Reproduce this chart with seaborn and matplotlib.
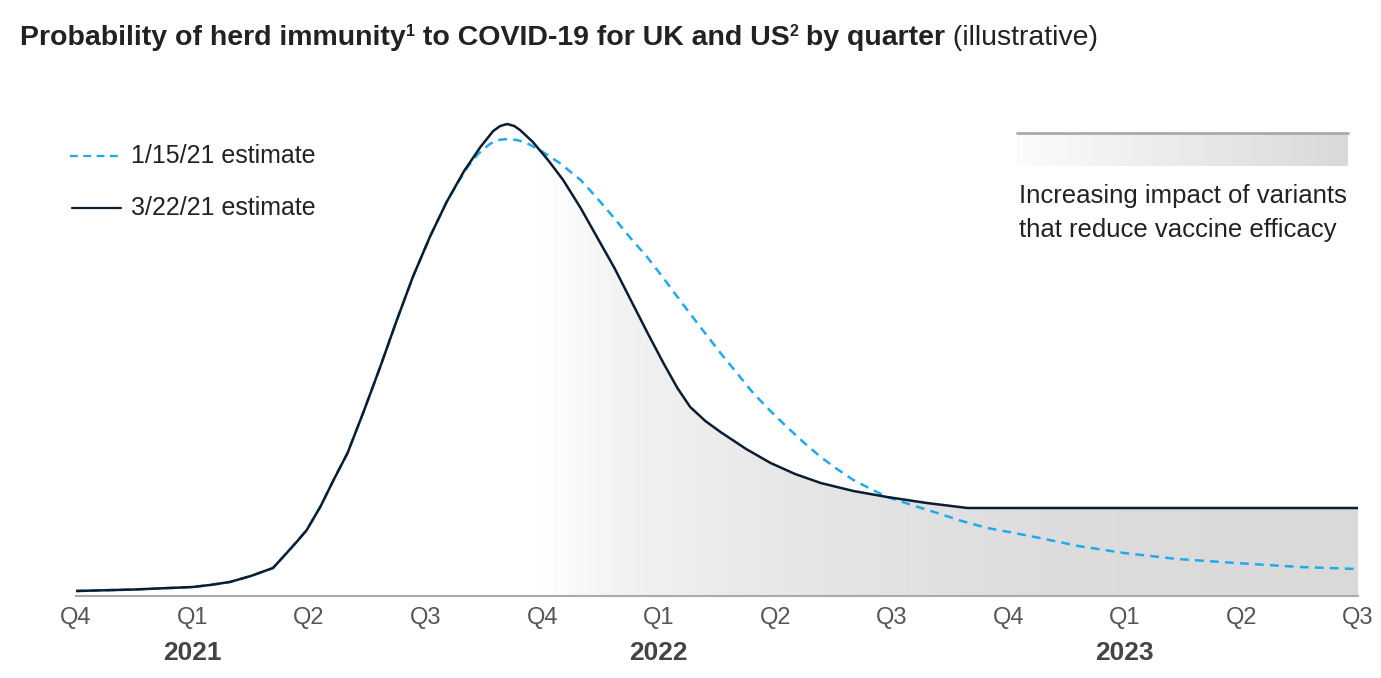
import numpy as np
import pandas as pd
import matplotlib.pyplot as plt
import seaborn as sns
from matplotlib.colors import LinearSegmentedColormap
from matplotlib.patches import PathPatch
from matplotlib.lines import Line2D

sns.set_style("white")
plt.rcParams['font.family'] = ['Liberation Sans', 'DejaVu Sans']

# quarter ticks (position 0 = Q4 2020)
quarters = ["Q4", "Q1", "Q2", "Q3", "Q4", "Q1", "Q2", "Q3", "Q4", "Q1", "Q2", "Q3"]
years = ["2021", "2022", "2023"]
year_pos = [1, 5, 9]

# 3/22/21 estimate (illustrative index)
est_mar_q = [0.0, 0.5, 1.0, 1.15, 1.32, 1.5, 1.69, 1.8, 1.9, 1.98, 2.1, 2.21, 2.33,
             2.47, 2.61, 2.75, 2.89, 3.04, 3.18, 3.33, 3.47, 3.58, 3.64, 3.70, 3.76,
             3.81, 3.92, 4.05, 4.18, 4.33, 4.47, 4.62, 4.76, 4.90, 5.04, 5.16, 5.27,
             5.40, 5.53, 5.75, 5.96, 6.17, 6.39, 6.67, 6.96, 7.30, 7.65, 11.0]
est_mar_v = [5, 6.5, 9, 11, 14, 20, 28, 42, 55, 66, 90, 116, 143,
             185, 229, 275, 319, 360, 394, 425, 449, 465, 470, 472, 470,
             466, 454, 436, 416, 388, 359, 328, 296, 264, 233, 208, 189,
             175, 164, 147, 133, 122, 113, 105, 99, 93, 88, 88]

# 1/15/21 estimate
est_jan_q = [0.0, 0.5, 1.0, 1.15, 1.32, 1.5, 1.69, 1.8, 1.9, 1.98, 2.1, 2.21, 2.33,
             2.47, 2.61, 2.75, 2.89, 3.04, 3.18, 3.27, 3.36, 3.45, 3.55, 3.62, 3.70,
             3.78, 3.85, 3.98, 4.15, 4.33, 4.47, 4.61, 4.75, 4.90, 5.04, 5.18, 5.35,
             5.53, 5.67, 5.81, 5.95, 6.10, 6.25, 6.39, 6.53, 6.67, 6.82, 6.96, 7.17,
             7.39, 7.60, 7.82, 8.05, 8.27, 8.60, 8.99, 9.45, 9.95, 10.5, 11.0]
est_jan_v = [5, 6.5, 9, 11, 14, 20, 28, 42, 55, 66, 90, 116, 143,
             185, 229, 275, 319, 360, 394, 412, 429, 442, 452, 456, 457,
             456, 454, 446, 433, 416, 398, 379, 359, 339, 318, 296, 270,
             243, 223, 203, 186, 169, 153, 139, 127, 116, 107, 99, 91,
             83, 75, 68, 63, 58, 50, 43, 37, 33, 29, 27]

df_mar = pd.DataFrame({"q": est_mar_q, "v": est_mar_v})
df_jan = pd.DataFrame({"q": est_jan_q, "v": est_jan_v})

W, H = 1381, 678
fig = plt.figure(figsize=(W / 100, H / 100), dpi=100)
ax = fig.add_axes([76 / W, 82 / H, 1282 / W, 520 / H])

# gradient fill under the March curve
fill_start = 3.98
grad_cmap = LinearSegmentedColormap.from_list(
    "grad", [(0, "#ffffff"), (0.095, "#f3f3f3"), (0.317, "#e6e6e6"),
             (0.61, "#dddddd"), (1, "#d9d9d9")])
im = ax.imshow(np.linspace(0, 1, 512).reshape(1, -1), extent=[fill_start, 11, 0, 520],
               aspect="auto", cmap=grad_cmap, origin="lower", zorder=0)
poly = ax.fill_between(df_mar["q"], df_mar["v"], 0, color="none", lw=0)
clip = PathPatch(poly.get_paths()[0], transform=ax.transData, facecolor="none", edgecolor="none")
ax.add_patch(clip)
im.set_clip_path(clip)

sns.lineplot(data=df_jan, x="q", y="v", ax=ax, color="#1eaaf0", lw=1.8,
             linestyle=(0, (3.5, 2.5)), zorder=3)
sns.lineplot(data=df_mar, x="q", y="v", ax=ax, color="#0b1d30", lw=1.8, zorder=4)

ax.set_xlim(0, 11)
ax.set_ylim(0, 520)
ax.set_xlabel("")
ax.set_ylabel("")
ax.set_yticks([])
ax.set_xticks(range(len(quarters)))
ax.set_xticklabels(quarters, fontsize=17, color="#555555")
ax.tick_params(axis="x", direction="in", length=6, width=1, color="#aaaaaa", pad=8)
for s in ["top", "right", "left"]:
    ax.spines[s].set_visible(False)
ax.spines["bottom"].set_color("#aaaaaa")
ax.spines["bottom"].set_linewidth(1.5)

for yr, p in zip(years, year_pos):
    ax.text(p, -57, yr, ha="center", va="center", fontsize=19, fontweight="bold",
            color="#444444", clip_on=False)

# legend
fig.add_artist(Line2D([70 / W, 121 / W], [1 - 156 / H] * 2, color="#1eaaf0", lw=1.6,
                      linestyle=(0, (3.5, 2.5))))
fig.add_artist(Line2D([72 / W, 121 / W], [1 - 208 / H] * 2, color="#0b1d30", lw=1.6))
fig.text(131 / W, 1 - 156 / H, "1/15/21 estimate", fontsize=18, color="#222222", va="center")
fig.text(131 / W, 1 - 208 / H, "3/22/21 estimate", fontsize=18, color="#222222", va="center")

# variants box
bax = fig.add_axes([1017 / W, 1 - 166 / H, 331 / W, 33 / H])
bax.imshow(np.linspace(0, 1, 512).reshape(1, -1), aspect="auto",
           cmap=LinearSegmentedColormap.from_list("b", ["#fcfcfc", "#d9d9d9"]))
bax.axis("off")
fig.add_artist(Line2D([1017 / W, 1348 / W], [1 - 133 / H] * 2, color="#aaaaaa", lw=2))
fig.text(1019 / W, 1 - 196 / H, "Increasing impact of variants", fontsize=18.5,
         color="#222222", va="center")
fig.text(1019 / W, 1 - 230 / H, "that reduce vaccine efficacy", fontsize=18.5,
         color="#222222", va="center")

# title built from pieces (superscripts)
renderer = fig.canvas.get_renderer()
pieces = [("Probability of herd immunity", 20.5, "bold", 0),
          ("1", 11.5, "bold", 9),
          (" to COVID-19 for UK and US", 20.5, "bold", 0),
          ("2", 11.5, "bold", 9),
          (" by quarter", 20.5, "bold", 0),
          (" (illustrative)", 20.5, "normal", 0)]
x = 20
for txt, fs, fw, dy in pieces:
    t = fig.text(x / W, 1 - (45 - dy) / H, txt, fontsize=fs, fontweight=fw,
                 color="#222222", va="baseline")
    bb = t.get_window_extent(renderer)
    x += bb.width

fig.savefig("out.png", dpi=100)
